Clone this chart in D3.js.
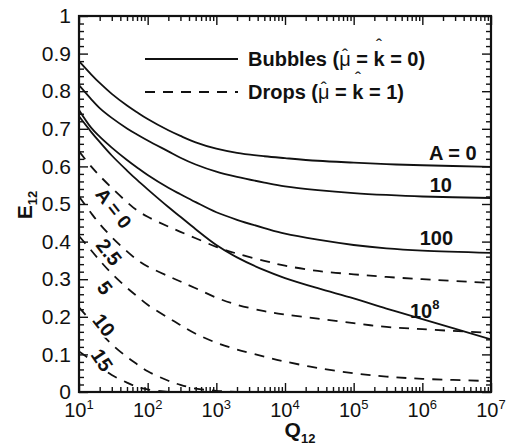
<!DOCTYPE html>
<html>
<head>
  <meta charset="utf-8">
  <title>E12 vs Q12</title>
  <script src="https://d3js.org/d3.v7.min.js"></script>
  <style>
    body { margin: 0; background: #fff; }
    svg { font-family: "Liberation Sans", Arial, Helvetica, sans-serif; }
    .curve { fill: none; stroke: #111; stroke-width: 1.8px; }
    .dashed { stroke-dasharray: 10, 8; }
    .tick line { stroke: #111; stroke-width: 1.4px; }
  </style>
</head>
<body>
<svg id="chart" width="513" height="444"></svg>
<script>
  // sample points along Q12 (log axis)
  const qValues = [10, 15, 20, 30, 50, 70, 100, 200, 300, 500, 1e3, 2e3, 5e3, 1e4, 3e4, 1e5, 3e5, 1e6, 1e7];

  // bubbles (solid), E12 at each qValue
  const bubbleA0   = [0.880, 0.845, 0.822, 0.793, 0.762, 0.744, 0.726, 0.696, 0.681, 0.664, 0.647, 0.636, 0.627, 0.622, 0.615, 0.610, 0.606, 0.603, 0.599];
  const bubbleA10  = [0.816, 0.779, 0.755, 0.729, 0.701, 0.685, 0.669, 0.640, 0.623, 0.605, 0.586, 0.572, 0.557, 0.547, 0.537, 0.529, 0.524, 0.520, 0.516];
  const bubbleA100 = [0.750, 0.703, 0.679, 0.650, 0.617, 0.597, 0.577, 0.543, 0.526, 0.505, 0.478, 0.458, 0.436, 0.421, 0.405, 0.391, 0.382, 0.376, 0.370];
  const bubbleA1e8 = [0.733, 0.692, 0.665, 0.629, 0.589, 0.564, 0.539, 0.492, 0.466, 0.433, 0.391, 0.358, 0.324, 0.303, 0.276, 0.249, 0.222, 0.194, 0.140];

  // drops (dashed)
  const dropA0   = [0.640, 0.600, 0.575, 0.543, 0.505, 0.483, 0.466, 0.440, 0.426, 0.409, 0.386, 0.368, 0.349, 0.336, 0.322, 0.313, 0.306, 0.300, 0.290];
  const dropA2_5 = [0.520, 0.476, 0.447, 0.412, 0.374, 0.352, 0.334, 0.308, 0.294, 0.276, 0.251, 0.232, 0.215, 0.206, 0.195, 0.183, 0.173, 0.167, 0.157];
  const dropA5   = [0.415, 0.377, 0.350, 0.315, 0.277, 0.255, 0.232, 0.197, 0.178, 0.155, 0.131, 0.113, 0.094, 0.081, 0.064, 0.050, 0.041, 0.035, 0.029];
  const dropA10  = [0.225, 0.188, 0.160, 0.127, 0.093, 0.074, 0.055, 0.030, 0.019, 0.009, 0.003, 0.000, null, null, null, null, null, null, null];
  const dropA15  = [0.108, 0.085, 0.068, 0.045, 0.025, 0.014, 0.007, 0.000, null, null, null, null, null, null, null, null, null, null, null];

  const bubbleSeries = [bubbleA0, bubbleA10, bubbleA100, bubbleA1e8];
  const dropSeries = [dropA0, dropA2_5, dropA5, dropA10, dropA15];

  // curve labels, anchored in data units
  const bubbleLabels = ["A = 0", "10", "100", "10^8"];
  const bubbleLabelAt = [[6.2e6, 0.617], [2.7e6, 0.532], [2.8e6, 0.391], [6.6e5, 0.197]];
  const dropLabels = ["A = 0", "2.5", "5", "10", "15"];
  const dropLabelAt = [[32, 0.489], [27.4, 0.372], [23.9, 0.277], [23.1, 0.178], [21.6, 0.085]];

  const yTicks = [0, 0.1, 0.2, 0.3, 0.4, 0.5, 0.6, 0.7, 0.8, 0.9, 1];
  const xDecades = [1, 2, 3, 4, 5, 6, 7];

  const svg = d3.select("#chart");
  const x = d3.scaleLog().domain([10, 1e7]).range([79, 491]);
  const y = d3.scaleLinear().domain([0, 1]).range([392, 16]);

  svg.append("clipPath").attr("id", "plotclip").append("rect")
    .attr("x", 79).attr("y", 16).attr("width", 412).attr("height", 376);

  // ticks (inward on all four sides)
  const majorX = xDecades.map(k => Math.pow(10, k));
  const minorX = [];
  for (let k = 1; k < 7; k++) for (let m = 2; m < 10; m++) minorX.push(m * Math.pow(10, k));
  const minorY = d3.range(0, 51).map(i => i / 50).filter(v => Math.round(v * 50) % 5 !== 0);

  function addAxis(axis, tx, ty) {
    const g = svg.append("g").attr("transform", `translate(${tx},${ty})`).call(axis);
    g.select(".domain").remove();
    return g;
  }
  addAxis(d3.axisBottom(x).tickValues(majorX).tickSize(-9).tickFormat(""), 0, 392);
  addAxis(d3.axisBottom(x).tickValues(minorX).tickSize(-5).tickFormat(""), 0, 392);
  addAxis(d3.axisTop(x).tickValues(majorX).tickSize(-9).tickFormat(""), 0, 16);
  addAxis(d3.axisTop(x).tickValues(minorX).tickSize(-5).tickFormat(""), 0, 16);
  addAxis(d3.axisRight(y).tickValues(yTicks).tickSize(-9).tickFormat(""), 491, 0);
  addAxis(d3.axisRight(y).tickValues(minorY).tickSize(-5).tickFormat(""), 491, 0);
  addAxis(d3.axisLeft(y).tickValues(minorY).tickSize(-5).tickFormat(""), 79, 0);
  const yAxis = addAxis(d3.axisLeft(y).tickValues(yTicks).tickSize(-9).tickPadding(8)
    .tickFormat(d => d === 0 ? "0" : d === 1 ? "1" : d.toFixed(1)), 79, 0);
  yAxis.selectAll("text").attr("font-size", 21).attr("fill", "#111")
    .attr("font-family", "Liberation Sans, Arial, sans-serif");

  // x tick labels 10^k
  const xl = svg.append("g").selectAll("text").data(xDecades).join("text")
    .attr("x", d => x(Math.pow(10, d)))
    .attr("y", 417)
    .attr("text-anchor", "middle")
    .attr("font-size", 20)
    .attr("fill", "#111");
  xl.append("tspan").text("10");
  xl.append("tspan").attr("dy", -8).attr("font-size", 13).text(d => d);

  // curves
  const line = d3.line()
    .defined(d => d[1] !== null)
    .x(d => x(d[0]))
    .y(d => y(d[1]))
    .curve(d3.curveCatmullRom.alpha(0.5));
  const plot = svg.append("g").attr("clip-path", "url(#plotclip)");
  plot.selectAll(".bubble").data(bubbleSeries).join("path")
    .attr("class", "curve bubble")
    .attr("d", s => line(s.map((v, i) => [qValues[i], v])));
  plot.selectAll(".drop").data(dropSeries).join("path")
    .attr("class", "curve dashed drop")
    .attr("d", s => line(s.map((v, i) => [qValues[i], v])));

  // frame
  svg.append("rect").attr("x", 79).attr("y", 16).attr("width", 412).attr("height", 376)
    .attr("fill", "none").attr("stroke", "#111").attr("stroke-width", 2.2);

  // bubble labels
  const bl = svg.append("g").selectAll("text").data(bubbleLabels).join("text")
    .attr("x", (d, i) => x(bubbleLabelAt[i][0]))
    .attr("y", (d, i) => y(bubbleLabelAt[i][1]))
    .attr("text-anchor", (d, i) => i === 3 ? "start" : "end")
    .attr("font-size", 20).attr("font-weight", "bold").attr("fill", "#111");
  bl.each(function(d) {
    const t = d3.select(this);
    if (d.includes("^")) {
      const [base, sup] = d.split("^");
      t.append("tspan").text(base);
      t.append("tspan").attr("dy", -9).attr("font-size", 13).text(sup);
    } else {
      t.text(d);
    }
  });

  // drop labels, rotated along the dashed lines
  svg.append("g").selectAll("text").data(dropLabels).join("text")
    .attr("transform", (d, i) => `translate(${x(dropLabelAt[i][0])},${y(dropLabelAt[i][1])}) rotate(${i === 4 ? 56 : 52})`)
    .attr("text-anchor", "middle")
    .attr("dy", "0.35em")
    .attr("font-size", (d, i) => i === 0 ? 19 : 20)
    .attr("font-weight", "bold").attr("fill", "#111")
    .attr("stroke", "#fff").attr("stroke-width", 4).attr("paint-order", "stroke")
    .text(d => d);

  // legend
  const legendRows = [
    {name: "Bubbles", val: "0", dash: false, y: 59},
    {name: "Drops", val: "1", dash: true, y: 92}
  ];
  legendRows.forEach(r => {
    svg.append("line").attr("x1", 145).attr("x2", 238).attr("y1", r.y).attr("y2", r.y)
      .attr("class", r.dash ? "curve dashed" : "curve");
    const t = svg.append("text").attr("x", 248).attr("y", r.y + 7)
      .attr("font-size", 20).attr("font-weight", "bold").attr("fill", "#111");
    t.append("tspan").text(r.name + " (");
    t.append("tspan").attr("font-weight", "normal").text("\u03bc");
    t.append("tspan").text(" = k = " + r.val + ")");
    const node = t.node();
    const iMu = r.name.length + 2;
    const iK = iMu + 4;
    // hats: baseline of the circumflex glyph, above the mu and above the k ascender
    [[iMu, r.y + 3], [iK, r.y - 7]].forEach(([ci, by]) => {
      const ext = node.getExtentOfChar(ci);
      svg.append("text").attr("x", ext.x + ext.width / 2).attr("y", by)
        .attr("text-anchor", "middle").attr("font-size", 18).attr("fill", "#111")
        .text("\u02c6");
    });
  });

  // axis titles
  const yt = svg.append("text")
    .attr("transform", "translate(32,205) rotate(-90)")
    .attr("text-anchor", "middle")
    .attr("font-size", 21).attr("font-weight", "bold").attr("fill", "#111");
  yt.append("tspan").text("E");
  yt.append("tspan").attr("dy", 5).attr("font-size", 13).text("12");

  const xt = svg.append("text")
    .attr("x", 300).attr("y", 437)
    .attr("text-anchor", "middle")
    .attr("font-size", 21).attr("font-weight", "bold").attr("fill", "#111");
  xt.append("tspan").text("Q");
  xt.append("tspan").attr("dy", 6).attr("font-size", 13).text("12");
</script>
</body>
</html>
